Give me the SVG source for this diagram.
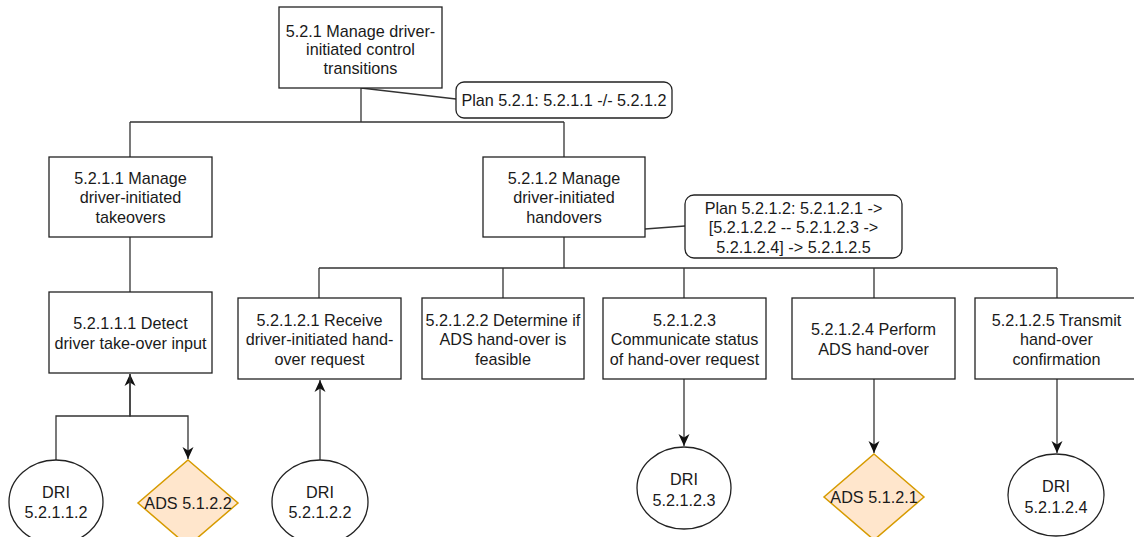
<svg xmlns="http://www.w3.org/2000/svg" width="1134" height="537" viewBox="0 0 1134 537">
<style>
.box{fill:#fff;stroke:#222;stroke-width:1.3}
.plan{fill:#fff;stroke:#222;stroke-width:1.3}
.ell{fill:#fff;stroke:#222;stroke-width:1.3}
.dia{fill:#ffe6cc;stroke:#d79b00;stroke-width:1.5}
.ln{fill:none;stroke:#333;stroke-width:1.3}
text{font-family:"Liberation Sans",Arial,Helvetica,sans-serif;font-size:16.2px;fill:#1a1a1a;text-anchor:middle}
</style>
<defs>
<marker id="arr" markerUnits="userSpaceOnUse" markerWidth="14" markerHeight="14" viewBox="0 0 14 14" refX="12" refY="7" orient="auto">
<path d="M0,1.5 L12,7 L0,12.5 L3.5,7 z" fill="#111"/>
</marker>
</defs>
<rect width="1134" height="537" fill="#fff"/>
<g id="connectors">
<path class="ln" d="M361,88 V122 M130,122 H564 M130,122 V157 M564,122 V157"/>
<path class="ln" d="M361,88 L456,99"/>
<path class="ln" d="M130,237 V292"/>
<path class="ln" d="M564,237 V268 M319,268 H1057 M319,268 V298 M503,268 V298 M684,268 V298 M874,268 V298 M1057,268 V298"/>
<path class="ln" d="M645,229 L685,226"/>
<path class="ln" d="M56,460 V416 H130 V374" marker-end="url(#arr)"/>
<path class="ln" d="M130,374 V416 H188 V459" marker-end="url(#arr)"/>
<path class="ln" d="M320,460 V380" marker-end="url(#arr)"/>
<path class="ln" d="M684,379 V446" marker-end="url(#arr)"/>
<path class="ln" d="M874,379 V453" marker-end="url(#arr)"/>
<path class="ln" d="M1057,379 V453" marker-end="url(#arr)"/>
</g>
<g id="n521">
<rect class="box" x="279" y="7" width="163" height="81"/>
<text x="360.5" y="37">5.2.1 Manage driver-</text>
<text x="360.5" y="55">initiated control</text>
<text x="360.5" y="74">transitions</text>
</g>
<g id="plan521">
<rect class="plan" x="456" y="82" width="216" height="36" rx="8"/>
<text x="564" y="105.5">Plan 5.2.1: 5.2.1.1 -/- 5.2.1.2</text>
</g>
<g id="n5211">
<rect class="box" x="49" y="157" width="163" height="80"/>
<text x="130.5" y="183.5">5.2.1.1 Manage</text>
<text x="130.5" y="203">driver-initiated</text>
<text x="130.5" y="222.5">takeovers</text>
</g>
<g id="n5212">
<rect class="box" x="483" y="157" width="162" height="80"/>
<text x="564" y="183.5">5.2.1.2 Manage</text>
<text x="564" y="203">driver-initiated</text>
<text x="564" y="222.5">handovers</text>
</g>
<g id="plan5212">
<rect class="plan" x="685" y="195" width="217" height="63" rx="9"/>
<text x="793.5" y="213.5">Plan 5.2.1.2: 5.2.1.2.1 -&gt;</text>
<text x="793.5" y="233">[5.2.1.2.2 -- 5.2.1.2.3 -&gt;</text>
<text x="793.5" y="252.5">5.2.1.2.4] -&gt; 5.2.1.2.5</text>
</g>
<g id="n52111">
<rect class="box" x="49" y="292" width="163" height="81"/>
<text x="130.5" y="328.5">5.2.1.1.1 Detect</text>
<text x="130.5" y="348.5">driver take-over input</text>
</g>
<g id="n52121">
<rect class="box" x="238" y="298" width="163" height="81"/>
<text x="319.5" y="325.5">5.2.1.2.1 Receive</text>
<text x="319.5" y="345">driver-initiated hand-</text>
<text x="319.5" y="364.5">over request</text>
</g>
<g id="n52122">
<rect class="box" x="422" y="298" width="162" height="81"/>
<text x="503" y="325.5">5.2.1.2.2 Determine if</text>
<text x="503" y="345">ADS hand-over is</text>
<text x="503" y="364.5">feasible</text>
</g>
<g id="n52123">
<rect class="box" x="603" y="298" width="163" height="81"/>
<text x="684.5" y="325.5">5.2.1.2.3</text>
<text x="684.5" y="345">Communicate status</text>
<text x="684.5" y="364.5">of hand-over request</text>
</g>
<g id="n52124">
<rect class="box" x="792" y="298" width="163" height="81"/>
<text x="873.5" y="334.5">5.2.1.2.4 Perform</text>
<text x="873.5" y="354.5">ADS hand-over</text>
</g>
<g id="n52125">
<rect class="box" x="975" y="298" width="163" height="81"/>
<text x="1056.5" y="325.5">5.2.1.2.5 Transmit</text>
<text x="1056.5" y="345">hand-over</text>
<text x="1056.5" y="364.5">confirmation</text>
</g>
<g id="dri52112">
<ellipse class="ell" cx="56" cy="502" rx="47" ry="42"/>
<text x="56" y="498">DRI</text>
<text x="56" y="518">5.2.1.1.2</text>
</g>
<g id="ads5122">
<polygon class="dia" points="188,460 238,503 188,546 138,503"/>
<text x="188" y="509">ADS 5.1.2.2</text>
</g>
<g id="dri52122">
<ellipse class="ell" cx="320" cy="502" rx="48" ry="42"/>
<text x="320" y="498">DRI</text>
<text x="320" y="518">5.2.1.2.2</text>
</g>
<g id="dri52123">
<ellipse class="ell" cx="684" cy="488" rx="47" ry="41"/>
<text x="684" y="484.5">DRI</text>
<text x="684" y="505.5">5.2.1.2.3</text>
</g>
<g id="ads5121">
<polygon class="dia" points="874,454 924,497 874,540 824,497"/>
<text x="874" y="503">ADS 5.1.2.1</text>
</g>
<g id="dri52124">
<ellipse class="ell" cx="1056" cy="495" rx="48" ry="41"/>
<text x="1056" y="491.5">DRI</text>
<text x="1056" y="512.5">5.2.1.2.4</text>
</g>
</svg>
